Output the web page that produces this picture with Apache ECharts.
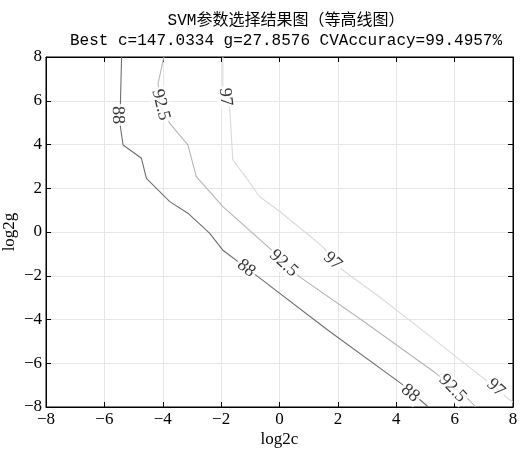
<!DOCTYPE html>
<html><head><meta charset="utf-8">
<script src="https://cdn.jsdelivr.net/npm/echarts@6/dist/echarts.min.js"></script>
<style>html,body{margin:0;padding:0;background:#fff}#c{width:521px;height:454px}</style>
</head><body><div id="c"></div>
<script>
var titleLine1 = 'SVM参数选择结果图（等高线图）';
var titleLine2 = 'Best c=147.0334 g=27.8576 CVAccuracy=99.4957%';
var xName = 'log2c', yName = 'log2g';
var axisMin = -8, axisMax = 8, axisStep = 2;
var levels = ['88', '92.5', '97'];
var contour88 = [[-5.41,8],[-5.45,5.9],[-5.45,4.8],[-5.36,3.98],[-4.73,3.37],[-4.56,2.45],[-3.76,1.39],[-3.14,0.86],[-2.39,-0.06],[-1.95,-0.82],[-0.74,-2.04],[1.65,-4.48],[4.16,-6.92],[5.1,-8]];
var contour925 = [[-3.96,8],[-4.16,6.8],[-4.1,5.8],[-3.76,4.97],[-3.14,3.98],[-2.85,2.53],[-1.94,1.16],[-0.4,-0.67],[0.68,-2.04],[2.9,-4.1],[5.36,-6.46],[6.5,-7.68],[6.72,-8]];
var contour97 = [[-1.94,8],[-1.94,6.64],[-1.85,6.0],[-1.71,5.73],[-1.6,3.29],[-1.25,2.68],[-0.68,1.61],[0,0.95],[1.48,-0.67],[2.16,-1.74],[3.42,-2.96],[4.44,-4.02],[7.07,-6.77],[7.41,-7.12],[7.75,-7.53],[8,-7.78]];
// label anchor points [x, y] per level
var labels88 = [[-5.54,5.35],[-1.14,-1.66],[4.48,-7.37]];
var labels925 = [[-4.07,5.81],[0.14,-1.43],[5.93,-7.15]];
var labels97 = [[-1.85,6.17],[1.82,-1.33],[7.41,-7.12]];
var rot88 = [-88,-38,-40];
var rot925 = [-76,-42,-46];
var rot97 = [-84,-42,-42];

var serif = '"Liberation Serif","Noto Sans CJK SC",serif';
var mono = '"Liberation Mono","Noto Sans CJK SC",monospace';
function fmt(v){ return String(v).replace('-', '\u2212'); }
function labelSeries(name, pts, rots){
  return {
    type:'scatter', name:name, symbolSize:0, z:5,
    data: pts.map(function(p,i){ return {value:p, label:{rotate:rots[i]}}; }),
    label:{show:true, position:'inside', formatter:name, color:'#000',
      fontFamily:serif, fontSize:18, backgroundColor:'#fff', padding:[0,2]},
    silent:true
  };
}
function lineSeries(data, color){
  return {type:'line', data:data, showSymbol:false, symbol:'none',
    lineStyle:{color:color, width:1.1}, silent:true, z:3};
}
var chart = echarts.init(document.getElementById('c'));
var axisCommon = {type:'value', min:axisMin, max:axisMax, interval:axisStep};
var lineSt = {show:true, onZero:false, lineStyle:{color:'#000'}};
var tickSt = {inside:true, length:5, lineStyle:{color:'#000'}};
chart.setOption({
  animation:false,
  title:{text:titleLine1, subtext:titleLine2, left:281, top:8, textAlign:'center', itemGap:4,
    textStyle:{fontFamily:mono, fontSize:16, fontWeight:'normal', color:'#000'},
    subtextStyle:{fontFamily:mono, fontSize:16, color:'#000'}},
  grid:{left:46, right:8, top:57, bottom:47, show:true, borderColor:'#000', borderWidth:1,
    containLabel:false, outerBoundsMode:'none'},
  xAxis:[Object.assign({}, axisCommon, {position:'bottom', name:xName, nameLocation:'middle', nameGap:24,
      nameMoveOverlap:false,
      nameTextStyle:{fontFamily:serif, fontSize:17, color:'#000'},
      axisLine:lineSt, axisTick:tickSt,
      axisLabel:{fontFamily:serif, fontSize:17, color:'#000', margin:4, formatter:fmt},
      splitLine:{show:true, lineStyle:{color:'#e6e6e6'}}}),
    Object.assign({}, axisCommon, {position:'top', axisLine:lineSt,
      axisTick:tickSt, axisLabel:{show:false}, splitLine:{show:false}})],
  yAxis:[Object.assign({}, axisCommon, {position:'left', name:yName, nameLocation:'middle', nameGap:28,
      nameMoveOverlap:false,
      nameTextStyle:{fontFamily:serif, fontSize:17, color:'#000'},
      axisLine:lineSt, axisTick:tickSt,
      axisLabel:{fontFamily:serif, fontSize:17, color:'#000', margin:4, formatter:fmt},
      splitLine:{show:true, lineStyle:{color:'#e6e6e6'}}}),
    Object.assign({}, axisCommon, {position:'right', axisLine:lineSt,
      axisTick:tickSt, axisLabel:{show:false}, splitLine:{show:false}})],
  series:[
    lineSeries(contour88, '#6e6e6e'),
    lineSeries(contour925, '#b4b4b4'),
    lineSeries(contour97, '#d9d9d9'),
    labelSeries(levels[0], labels88, rot88),
    labelSeries(levels[1], labels925, rot925),
    labelSeries(levels[2], labels97, rot97)
  ]
});
</script></body></html>
